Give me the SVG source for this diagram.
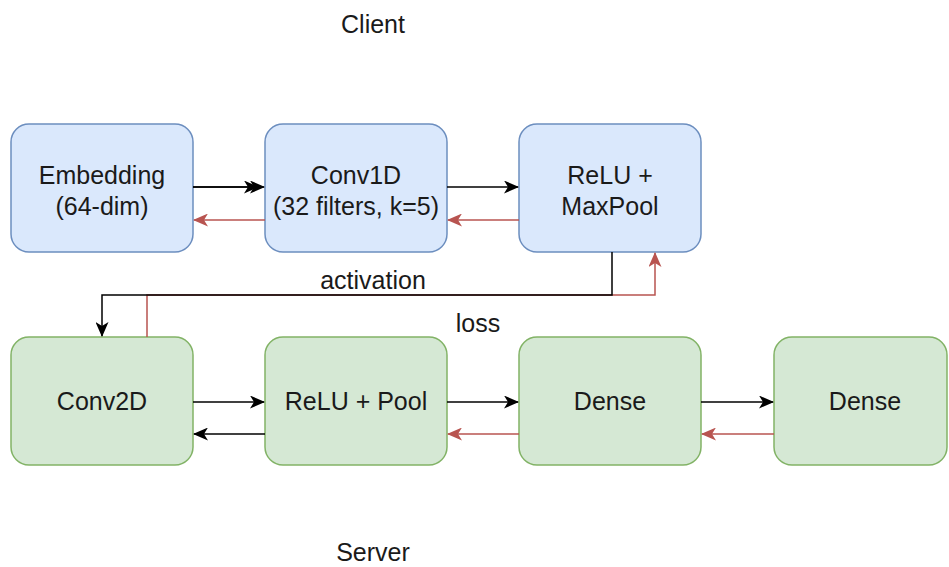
<svg xmlns="http://www.w3.org/2000/svg" width="949" height="567" viewBox="0 0 949 567">
<style>
.b{fill:#dae8fc;stroke:#6c8ebf;stroke-width:1.5}
.g{fill:#d5e8d4;stroke:#82b366;stroke-width:1.5}
text{font-family:"Liberation Sans",Arial,sans-serif;font-size:25px;fill:#1a1a1a;text-anchor:middle}
.k{fill:none;stroke:#000;stroke-width:1.5;marker-end:url(#ak)}
.r{fill:none;stroke:#b85450;stroke-width:1.5;marker-end:url(#ar)}
</style>
<defs>
<marker id="ak" viewBox="0 0 15 13" refX="14" refY="6.5" markerWidth="15" markerHeight="13" markerUnits="userSpaceOnUse" orient="auto"><path d="M0,0L15,6.5L0,13L4,6.5Z" fill="#000"/></marker>
<marker id="ar" viewBox="0 0 15 13" refX="14" refY="6.5" markerWidth="15" markerHeight="13" markerUnits="userSpaceOnUse" orient="auto"><path d="M0,0L15,6.5L0,13L4,6.5Z" fill="#b85450"/></marker>
</defs>
<rect width="949" height="567" fill="#fff"/>
<text x="373" y="33">Client</text>
<text x="373" y="561">Server</text>
<g id="embedding"><rect class="b" x="11" y="124" width="182" height="128" rx="18"/><text x="102" y="184">Embedding</text><text x="102" y="215">(64-dim)</text></g>
<g id="conv1d"><rect class="b" x="265" y="124" width="182" height="128" rx="18"/><text x="356" y="184">Conv1D</text><text x="356" y="215">(32 filters, k=5)</text></g>
<g id="relu-maxpool"><rect class="b" x="519" y="124" width="182" height="128" rx="18"/><text x="610" y="184">ReLU +</text><text x="610" y="215">MaxPool</text></g>
<g id="conv2d"><rect class="g" x="11" y="337" width="182" height="128" rx="18"/><text x="102" y="410">Conv2D</text></g>
<g id="relu-pool"><rect class="g" x="265" y="337" width="182" height="128" rx="18"/><text x="356" y="410">ReLU + Pool</text></g>
<g id="dense1"><rect class="g" x="519" y="337" width="182" height="128" rx="18"/><text x="610" y="410">Dense</text></g>
<g id="dense2"><rect class="g" x="774" y="337" width="173" height="128" rx="18"/><text x="865" y="410">Dense</text></g>
<g id="connectors">
<path class="r" d="M147,337V295H655V253"/>
<path class="k" d="M612,252V295H102V336"/>
<path class="k" d="M193,187H258"/>
<path class="k" d="M193,187H264"/>
<path class="r" d="M265,220H194"/>
<path class="k" d="M447,187H518"/>
<path class="r" d="M519,220H448"/>
<path class="k" d="M193,402H264"/>
<path class="k" d="M265,434H194"/>
<path class="k" d="M447,402H518"/>
<path class="r" d="M519,434H448"/>
<path class="k" d="M701,402H773"/>
<path class="r" d="M774,434H702"/>
<text x="373" y="289">activation</text>
<text x="478" y="332">loss</text>
</g>
</svg>
